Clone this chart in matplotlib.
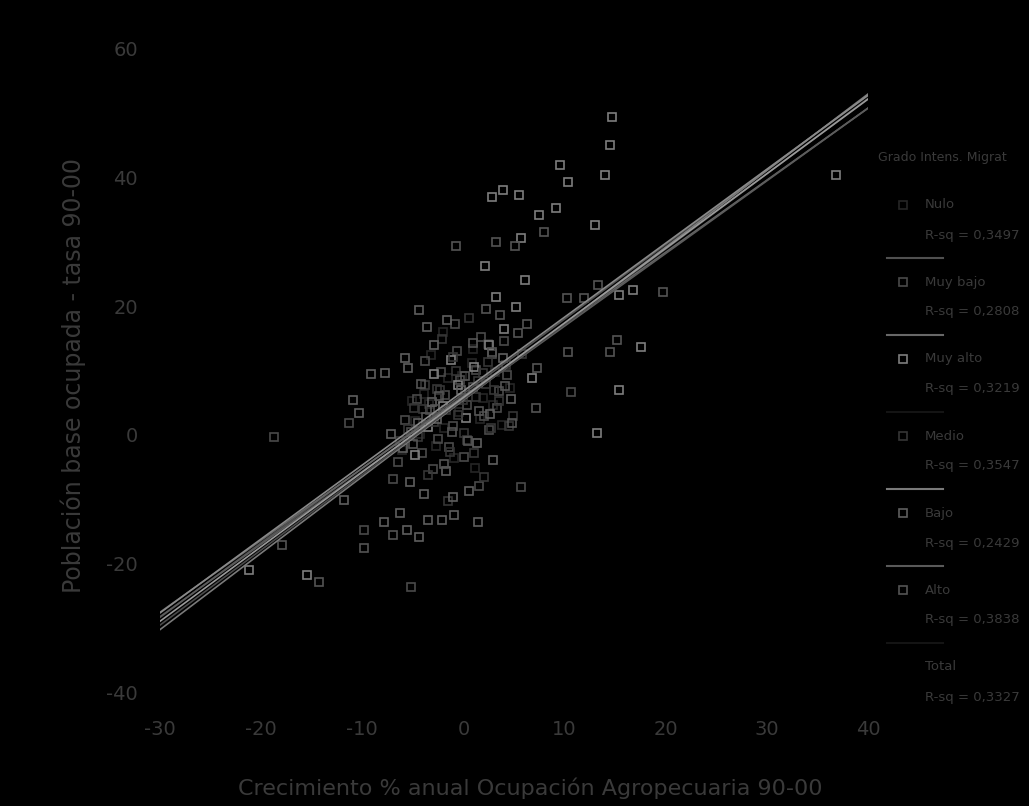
import matplotlib

matplotlib.use("Agg")
import matplotlib.pyplot as plt
from matplotlib.lines import Line2D

plt.rcParams["axes.unicode_minus"] = False

# --- data ----------------------------------------------------------------
groups = ["Nulo", "Muy bajo", "Muy alto", "Medio", "Bajo", "Alto", "Total"]
r_sq = ["0,3497", "0,2808", "0,3219", "0,3547", "0,2429", "0,3838", "0,3327"]

# fitted lines (slope, intercept) per group, drawn from x = -30 to 40
fit_slope = [1.16, 1.12, 1.19, 1.15, 1.13, 1.17, 1.16]
fit_icept = [6.4, 6.0, 5.4, 6.8, 5.6, 5.5, 5.8]
fit_x = [-30, 40]

nulo_x = [-4.8, -3.9, -2.7, -1.5, -0.4, 0.8, 1.9, 3.1, -3.2, -0.9, 2.4, 4.6, -6.1, 1.1, -2.0,
          -3.4, -1.9, 0.2, 1.6, 2.9, -4.3, -0.1, 3.8, -5.1, 0.9]
nulo_y = [2.1, 6.4, -1.8, 8.9, 3.5, 11.2, 5.8, 9.7, 12.4, -3.6, 14.1, 7.3, -2.4, -5.1, 16.0,
          4.8, 1.0, 6.6, 2.4, 4.6, 0.2, 9.1, 1.5, 5.3, 13.4]

muybajo_x = [-6.5, -5.2, -4.1, -3.3, -2.5, -1.8, -1.0, -0.3, 0.4, 1.2, 2.0, 2.8, 3.5, 4.3,
             -5.8, -4.6, -3.0, -2.2, -1.4, -0.6, 0.1, 0.9, 1.7, 2.5, 3.3, -7.0, -3.8, -0.8,
             1.5, 4.0, -18.7, -5.2, -9.8, 5.7, 10.6, -11.3]
muybajo_y = [-4.2, 0.5, -2.8, 3.9, -0.7, 6.2, 1.4, 8.5, 4.7, 10.1, 2.9, 12.6, 6.8, 9.3,
             2.3, 5.6, -5.3, 9.8, -1.9, 13.0, -3.4, 7.5, 15.2, 0.8, 4.1, -6.8, 11.4, 17.3,
             -7.9, 14.6, -0.3, -23.6, -14.8, -8.1, 6.7, 1.9]

muyalto_x = [14.7, 14.5, 14.0, 9.5, 10.3, 36.8, 9.2, 13.0, 2.8, 3.9, 5.5, 7.5, 5.7, 16.8,
             15.4, 17.6, 13.2, 15.4, -21.2, -15.5, -3.5, -2.0, -0.5, 1.0, 2.5, 4.0, 5.2,
             6.1, -4.8, -1.2, 0.3, 3.2, 6.8, 2.1, -2.9]
muyalto_y = [49.5, 45.0, 40.4, 42.0, 39.3, 40.4, 35.3, 32.7, 37.0, 38.0, 37.3, 34.2, 30.6,
             22.5, 21.8, 13.7, 0.3, 7.0, -21.0, -21.8, 1.2, 4.5, 7.8, 10.6, 13.9, 16.4,
             19.8, 24.1, -3.1, 11.7, 2.6, 21.5, 8.9, 26.3, 9.4]

medio_x = [-5.5, -4.0, -2.6, -1.3, 0.0, 1.4, 2.7, 4.2, -6.3, -3.5, -0.7, 2.0, 4.9, -2.1,
           1.0, 3.0, -4.5, 0.6, 5.8, -1.5, -2.9, -0.5, 1.9, 3.5, -3.8, -1.0, 0.4, 2.4,
           -4.9, -2.3, 0.1, 2.2, 4.5, -1.7, 1.2]
medio_y = [0.9, 4.0, 7.2, -2.6, 5.4, 8.3, 1.1, 10.9, -1.0, -6.2, 10.0, -6.5, 3.0, 14.9,
           -2.9, 7.0, -0.4, 18.2, 12.5, -10.3, 2.0, 3.1, 9.6, 5.2, 7.7, 12.1, -0.8, 11.3,
           4.1, 6.9, 0.3, 7.9, 1.3, 3.9, 5.9]

bajo_x = [-5.6, -4.4, -7.9, -6.3, -3.5, -2.1, -0.9, 1.4, -1.0, -11.8, -10.3, -10.9, -9.1,
          -7.8, -5.5, -5.8, -2.9, -1.6, -4.4, -3.6, -6.0, -4.5, -3.1, -1.7, -0.2, 1.3,
          2.6, 3.9, -5.3, -2.6, 0.6, 2.9, -7.2, -3.9, 4.7]
bajo_y = [-14.8, -15.9, -13.5, -12.1, -13.2, -13.2, -12.4, -13.5, -9.6, -10.1, 3.4, 5.4,
          9.5, 9.6, 10.4, 12.0, 14.0, 17.9, 19.4, 16.8, -2.1, 1.9, 5.1, -5.7, 6.9, -1.2,
          3.3, 11.9, -7.4, 2.4, -8.8, -3.9, 0.1, -9.2, 5.5]

alto_x = [5.1, -0.7, 3.2, 8.0, 13.3, 10.2, 11.9, 19.7, 15.2, 14.5, 10.3, -17.9, -14.3,
          -9.8, -7.0, 7.3, 7.2, -5.0, -3.7, -2.4, -1.1, 0.2, 1.5, 2.8, 4.1, 5.4, -4.2,
          -1.9, 0.9, 3.6, 6.3, -2.8, 0.5, 2.2, 4.8]
alto_y = [29.4, 29.4, 30.0, 31.6, 23.3, 21.3, 21.3, 22.2, 14.8, 12.9, 12.9, -17.1, -22.9,
          -17.6, -15.6, 10.4, 4.2, -1.5, 2.8, 6.1, 0.4, 9.2, 3.7, 12.8, 7.6, 15.9, 7.9,
          -4.6, 14.3, 18.7, 17.2, 4.0, -0.9, 19.5, 1.8]

points = {
    "Nulo": (nulo_x, nulo_y),
    "Muy bajo": (muybajo_x, muybajo_y),
    "Muy alto": (muyalto_x, muyalto_y),
    "Medio": (medio_x, medio_y),
    "Bajo": (bajo_x, bajo_y),
    "Alto": (alto_x, alto_y),
}

# --- styles ---------------------------------------------------------------
TEXT = "#3a3a3a"
marker_col = {"Nulo": "#262626", "Muy bajo": "#4a4a4a", "Muy alto": "#7e7e7e",
              "Medio": "#363636", "Bajo": "#5e5e5e", "Alto": "#545454", "Total": "#000000"}
line_col = ["#505050", "#686868", "#141414", "#7a7a7a", "#5a5a5a", "#141414", "#101010"]
plot_line_col = ["#505050", "#666666", "#7a7a7a", "#8a8a8a", "#5c5c5c", "#4a4a4a", "#9a9a9a"]

W, H = 1029, 806
fig = plt.figure(figsize=(W / 100, H / 100), dpi=100, facecolor="black")
ax = fig.add_axes([160 / W, 1 - 692 / H, 708 / W, (692 - 49) / H])
ax.set_facecolor("black")
for s in ax.spines.values():
    s.set_visible(False)

for name, (xs, ys) in points.items():
    ax.plot(xs, ys, "s", ms=6.3, mfc="none", mec=marker_col[name], mew=1.2)

for i, name in enumerate(groups):
    ys = [fit_slope[i] * x + fit_icept[i] for x in fit_x]
    ax.plot(fit_x, ys, "-", color=plot_line_col[i], lw=1.2)

ax.set_xlim(-30, 40)
ax.set_ylim(-40, 60)
ax.set_xticks([-30, -20, -10, 0, 10, 20, 30, 40])
ax.set_yticks([-40, -20, 0, 20, 40, 60])
ax.tick_params(length=0, labelsize=14, colors=TEXT)
ax.tick_params(axis="x", pad=20)
ax.tick_params(axis="y", pad=16)

ax.set_xlabel("Crecimiento % anual Ocupación Agropecuaria 90-00", fontsize=16,
              color=TEXT, va="center")
ax.xaxis.set_label_coords(0.523, -0.150)
ax.set_ylabel("Población base ocupada - tasa 90-00", fontsize=17, color=TEXT)
ax.yaxis.set_label_coords(-0.105, 0.493)

# --- legend, drawn by hand in pixel positions ----------------------------
def px(x, y):
    return x / W, 1 - y / H

fig.text(*px(878, 157), "Grado Intens. Migrat", fontsize=9, color=TEXT, va="center")
for i, name in enumerate(groups):
    y0 = 205 + i * 77
    if name != "Total":
        fig.add_artist(Line2D([903 / W], [1 - y0 / H], marker="s", ms=6.3, mfc="none",
                              mec=marker_col[name], mew=1.2, transform=fig.transFigure))
    fig.text(*px(925, y0), name, fontsize=9.5, color=TEXT, va="center")
    fig.text(*px(925, y0 + 30), f"R-sq = {r_sq[i]}", fontsize=9.5, color=TEXT, va="center")
    if name != "Total":
        fig.add_artist(Line2D([887 / W, 943 / W], [1 - (y0 + 53) / H] * 2, lw=1.5,
                              color=line_col[i], transform=fig.transFigure))

fig.savefig("out.png", dpi=100, facecolor="black")
